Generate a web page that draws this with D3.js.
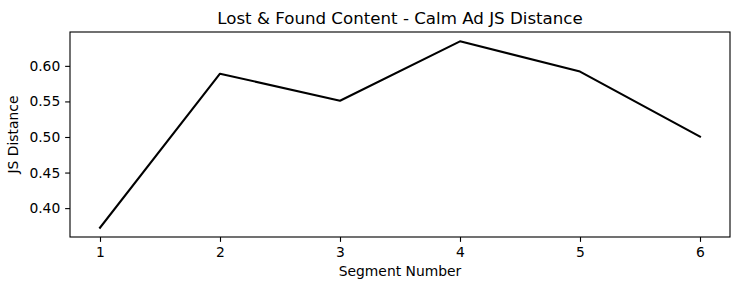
<!DOCTYPE html>
<html>
<head>
<meta charset="utf-8">
<script src="https://cdn.jsdelivr.net/npm/d3@7"></script>
<style>
  html, body { margin: 0; padding: 0; background: #fff; }
  svg { display: block; font-family: "DejaVu Sans", sans-serif; }
</style>
</head>
<body>
<svg id="chart" width="740" height="290"></svg>
<script>
const segments = [1, 2, 3, 4, 5, 6];
const jsDistance = [0.3725, 0.589, 0.551, 0.6345, 0.592, 0.5005];
const yTicks = [0.40, 0.45, 0.50, 0.55, 0.60];
const xTicks = [1, 2, 3, 4, 5, 6];
const title = "Lost & Found Content - Calm Ad JS Distance";
const xLabel = "Segment Number";
const yLabel = "JS Distance";

const PT = 100 / 72;
const svg = d3.select("#chart");
const m = { left: 70, right: 730, top: 32, bottom: 237 };

const xMin = d3.min(segments), xMax = d3.max(segments);
const xPad = (xMax - xMin) * 0.05;
const yMin = d3.min(jsDistance), yMax = d3.max(jsDistance);
const yPad = (yMax - yMin) * 0.05;

const x = d3.scaleLinear().domain([xMin - xPad, xMax + xPad]).range([m.left, m.right]);
const y = d3.scaleLinear().domain([yMin - yPad, yMax + yPad]).range([m.bottom, m.top]);

const line = d3.line().x((d, i) => x(segments[i])).y(d => y(d));
svg.append("path")
  .datum(jsDistance)
  .attr("d", line)
  .attr("fill", "none")
  .attr("stroke", "#000")
  .attr("stroke-width", 1.5 * PT)
  .attr("stroke-linejoin", "round")
  .attr("stroke-linecap", "square");

const xAxis = svg.append("g")
  .attr("transform", `translate(0,${m.bottom})`)
  .call(d3.axisBottom(x).tickValues(xTicks).tickFormat(d3.format("d")).tickSize(3.5 * PT).tickPadding(3.5 * PT));
const yAxis = svg.append("g")
  .attr("transform", `translate(${m.left},0)`)
  .call(d3.axisLeft(y).tickValues(yTicks).tickFormat(d3.format(".2f")).tickSize(3.5 * PT).tickPadding(3.5 * PT));

[xAxis, yAxis].forEach(g => {
  g.select(".domain").remove();
  g.selectAll(".tick line").attr("stroke", "#000").attr("stroke-width", 0.8 * PT);
  g.selectAll(".tick text").attr("fill", "#000").style("font-size", (10 * PT) + "px")
    .style("font-family", "'DejaVu Sans', sans-serif");
});
xAxis.selectAll(".tick text").attr("dy", null).attr("y", 20);

svg.append("rect")
  .attr("x", m.left).attr("y", m.top)
  .attr("width", m.right - m.left).attr("height", m.bottom - m.top)
  .attr("fill", "none").attr("stroke", "#000").attr("stroke-width", 0.8 * PT);

svg.append("text")
  .attr("x", (m.left + m.right) / 2).attr("y", 24)
  .attr("text-anchor", "middle")
  .style("font-size", (12 * PT) + "px")
  .text(title);

svg.append("text")
  .attr("x", (m.left + m.right) / 2).attr("y", 276)
  .attr("text-anchor", "middle")
  .style("font-size", (10 * PT) + "px")
  .text(xLabel);

svg.append("text")
  .attr("transform", `translate(18,${(m.top + m.bottom) / 2}) rotate(-90)`)
  .attr("text-anchor", "middle")
  .style("font-size", (10 * PT) + "px")
  .text(yLabel);
</script>
</body>
</html>
